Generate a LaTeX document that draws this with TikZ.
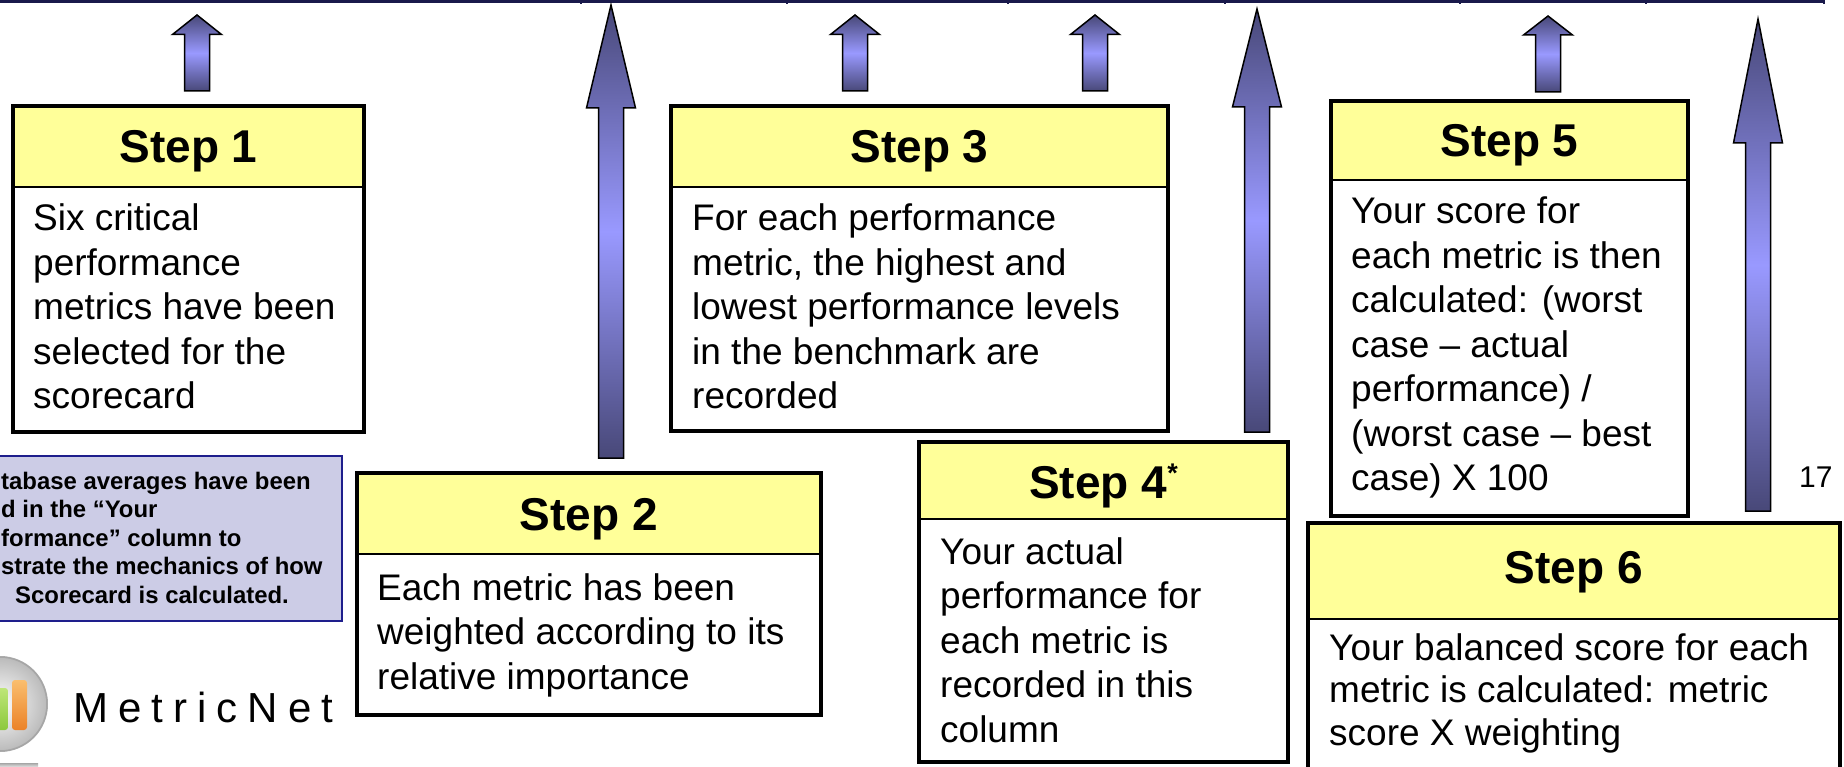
\documentclass[tikz,border=0pt]{standalone}
\usepackage{fontspec}
\setmainfont{Liberation Sans}
\newfontfamily\logofont[LetterSpace=24]{Liberation Sans}
\definecolor{headyellow}{RGB}{255,255,153}
\definecolor{arrowdark}{RGB}{72,72,120}
\definecolor{arrowlight}{RGB}{153,153,255}
\definecolor{notefill}{RGB}{204,204,230}
\definecolor{noteedge}{RGB}{30,30,140}
\definecolor{tableline}{RGB}{25,25,75}
\definecolor{logogreen}{RGB}{140,200,60}
\definecolor{logogreenlight}{RGB}{190,230,120}
\definecolor{logoorange}{RGB}{235,130,40}
\definecolor{logoorangelight}{RGB}{250,190,110}
\newcommand{\blockup}[6]{%
  \path[arrowbody] ({#1},{#2}) -- ({#1+#5},{#3}) -- ({#1+#6},{#3}) -- ({#1+#6},{#4})
    -- ({#1-#6},{#4}) -- ({#1-#6},{#3}) -- ({#1-#5},{#3}) -- cycle;}
\newcommand{\card}[6]{%
  \node[cardbox, minimum width={#4-#2}, minimum height={#5-#3}, anchor=north west] (#1) at (#2,#3) {};
  \fill[headyellow] (#2,#3) rectangle (#4,#6);
  \draw[line width=2pt] (#2,#6) -- (#4,#6);
  \draw[line width=4.5pt] (#1.north west) rectangle (#1.south east);}
\begin{document}
\begin{tikzpicture}[x=1pt,y=-1pt,
  cardbox/.style={rectangle, fill=white, inner sep=0pt, outer sep=0pt},
  headtext/.style={font=\fontsize{46}{50}\selectfont\bfseries, anchor=base, inner sep=0pt},
  bodytext/.style={font=\fontsize{37}{44.5}\selectfont, anchor=base west, inner sep=0pt},
  arrowbody/.style={draw=black, line width=1.5pt, miter limit=10,
    top color=arrowdark, bottom color=arrowdark, middle color=arrowlight},
  notebox/.style={rectangle, fill=notefill, draw=noteedge, line width=2pt, inner sep=0pt},
  notetext/.style={font=\fontsize{23.9}{28.5}\selectfont\bfseries, anchor=base west, inner sep=0pt},
]
\useasboundingbox (0,0) rectangle (1844,767);
\clip (0,0) rectangle (1844,767);

% table bottom border
\draw[tableline, line width=3pt] (0,1.5) -- (1824,1.5);
\foreach \tx in {581,787,1008,1225,1460,1646,1824}
  \draw[tableline, line width=2pt] (\tx,0) -- (\tx,4);

% arrows
\blockup{197}{15}{34.5}{91}{24.5}{12.5}
\blockup{855}{15}{34.5}{91}{24.5}{12.5}
\blockup{1095}{15}{34.5}{91}{24.5}{12.5}
\blockup{1548}{16}{35}{92}{24.5}{12.5}
\blockup{611}{5}{108}{458}{24.5}{12.5}
\blockup{1257}{9}{107}{432}{24.5}{12.5}
\blockup{1758}{19}{143}{511}{24.5}{12.5}

% step cards
\card{s1}{13}{106}{364}{432}{187}
\node[headtext] (s1h) at (188.5,163) {Step 1};
\node[bodytext] (s1t) at (33,231) {\begin{tabular}[t]{@{}l@{}}Six critical\\ performance\\ metrics have been\\ selected for the\\ scorecard\end{tabular}};

\card{s2}{357}{473}{821}{715}{554}
\node[headtext] (s2h) at (589,530) {Step 2};
\node[bodytext] (s2t) at (377,600) {\begin{tabular}[t]{@{}l@{}}Each metric has been\\ weighted according to its\\ relative importance\end{tabular}};

\card{s3}{671}{106}{1168}{431}{187}
\node[headtext] (s3h) at (919.5,163) {Step 3};
\node[bodytext] (s3t) at (692,231) {\begin{tabular}[t]{@{}l@{}}For each performance\\ metric, the highest and\\ lowest performance levels\\ in the benchmark are\\ recorded\end{tabular}};

\card{s4}{919}{442}{1288}{762}{519}
\node[headtext] (s4h) at (1103.5,498) {Step 4\raisebox{16pt}{\fontsize{27}{27}\selectfont *}};
\node[bodytext] (s4t) at (940,564) {\begin{tabular}[t]{@{}l@{}}Your actual\\ performance for\\ each metric is\\ recorded in this\\ column\end{tabular}};

\card{s5}{1331}{101}{1688}{516}{180}
\node[headtext] (s5h) at (1509.5,157) {Step 5};
\node[bodytext] (s5t) at (1351,224) {\begin{tabular}[t]{@{}l@{}}Your score for\\ each metric is then\\ calculated: (worst\\ case – actual\\ performance) /\\ (worst case – best\\ case) X 100\end{tabular}};

\card{s6}{1308}{523}{1840}{800}{619}
\node[headtext] (s6h) at (1574,583) {Step 6};
\node[bodytext, font=\fontsize{37}{42.5}\selectfont] (s6t) at (1329,660) {\begin{tabular}[t]{@{}l@{}}Your balanced score for each\\ metric is calculated: metric\\ score X weighting\end{tabular}};

% page number
\node[font=\fontsize{30}{32}\selectfont, anchor=base west, inner sep=0pt] (pnum) at (1799,487) {17};

% note box
\node[notebox, anchor=north east, minimum width=370, minimum height=165] (note) at (343,455) {};
\node[notetext] (notet) at (1,489) {\begin{tabular}[t]{@{}l@{}}tabase averages have been\\ d in the “Your\\ formance” column to\\ strate the mechanics of how\\ \hspace*{14pt}Scorecard is calculated.\end{tabular}};

% logo
\shade[inner color=white, outer color=gray!55] (0,704) circle (48);
\draw[gray!70, line width=1.5pt] (0,704) circle (47);
\shade[top color=logogreenlight, bottom color=logogreen, rounded corners=3pt] (-14,688) rectangle (8,730);
\shade[top color=logoorangelight, bottom color=logoorange, rounded corners=3pt] (12,680) rectangle (27,730);
\shade[top color=gray!70, bottom color=gray!20] (0,763) rectangle (38,767);
\node[font=\logofont\fontsize{42}{46}\selectfont, anchor=base west, inner sep=0pt] (logo) at (73,722) {MetricNet};
\end{tikzpicture}
\end{document}
